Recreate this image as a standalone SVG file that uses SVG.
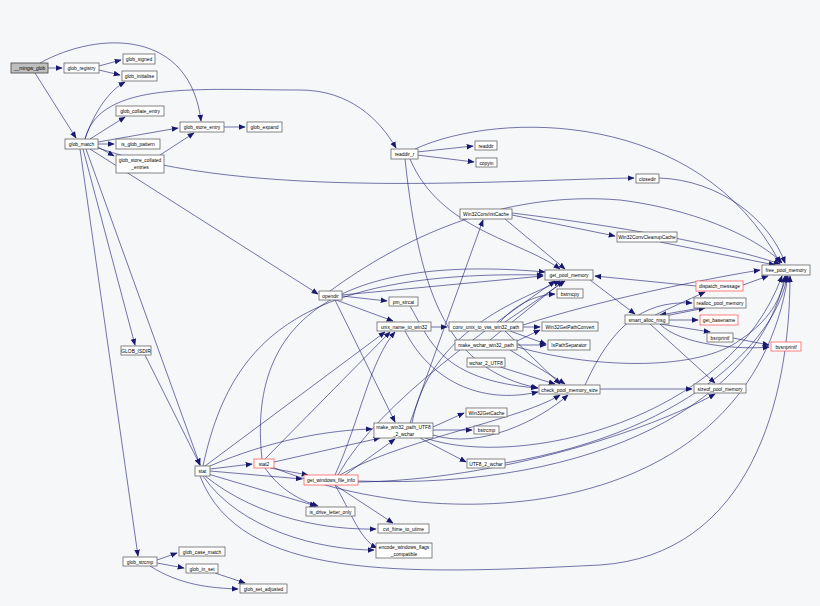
<svg xmlns="http://www.w3.org/2000/svg" width="820" height="606" viewBox="0 0 820 606">
<style>
.n rect{fill:#fff;stroke:#666;stroke-width:0.8}
.r rect{stroke:#ff6060}
.g rect{fill:#bfbfbf;stroke:#444}
text{font-family:"Liberation Sans",Arial,sans-serif;font-size:4.9px;fill:#000;text-anchor:middle}
#edges path{fill:none;stroke:#191970;stroke-width:0.6;marker-end:url(#a)}
</style>
<defs><marker id="a" viewBox="0 0 10 10" refX="9" refY="5" markerWidth="7" markerHeight="7" markerUnits="userSpaceOnUse" orient="auto"><path d="M0,1 L10,5 L0,9z" fill="#191970"/></marker></defs>
<rect width="820" height="606" fill="#f6f7f9"/>
<g id="edges">
<path d="M48,68 L62,68"/><path d="M35,73 L76,138"/><path d="M40,63 C100,30 190,30 201,121"/>
<path d="M99,66 L121,60"/><path d="M99,70 L120,75"/><path d="M85,139 C95,110 110,90 125,82"/>
<path d="M90,139 L125,117"/><path d="M98,142 L178,128"/><path d="M98,144 L114,144"/><path d="M98,147 L114,156"/>
<path d="M160,155 L194,133"/><path d="M224,127 L245,127"/>
<path d="M85,139 C100,80 200,90 300,90 C350,90 380,120 396,148"/>
<path d="M98,148 C250,200 500,180 634,178"/>
<path d="M90,149 L318,294"/><path d="M83,149 L135,345"/><path d="M86,149 L200,465"/><path d="M80,149 L138,556"/>
<path d="M145,355 L200,465"/>
<path d="M417,152 L473,146"/><path d="M417,155 L474,162"/>
<path d="M415,149 C500,110 700,110 780,263"/>
<path d="M410,159 C440,230 520,240 560,269"/>
<path d="M405,159 C420,300 450,370 538,388"/>
<path d="M659,178 C720,180 770,220 785,263"/>
<path d="M512,215 L615,236"/><path d="M512,213 C650,230 740,250 780,264"/><path d="M505,219 L565,269"/>
<path d="M660,242 L775,265"/>
<path d="M342,295 L543,276"/><path d="M342,296 L387,301"/><path d="M336,300 L393,321"/><path d="M335,300 L395,422"/>
<path d="M330,291 C400,240 500,190 620,200 C700,210 760,240 782,263"/>
<path d="M410,306 C430,340 440,380 537,388"/>
<path d="M431,327 L447,327"/><path d="M405,331 C430,380 480,405 538,392"/>
<path d="M523,327 L540,327"/><path d="M510,331 L546,344"/><path d="M500,322 C520,300 540,295 555,294"/>
<path d="M505,322 L565,281"/><path d="M523,325 C600,300 700,280 760,270"/><path d="M505,331 L560,384"/>
<path d="M517,345 L546,345"/><path d="M517,341 L540,330"/><path d="M490,340 L563,281"/><path d="M510,350 L565,384"/>
<path d="M517,347 C600,370 700,370 740,340 C770,320 780,300 786,276"/>
<path d="M500,367 L555,384"/>
<path d="M600,389 L692,389"/><path d="M585,385 C610,330 640,300 692,303"/>
<path d="M590,280 L635,314"/><path d="M655,315 L705,292"/><path d="M665,316 L705,308"/><path d="M700,308 L660,315"/>
<path d="M669,320 L698,320"/><path d="M660,324 L710,332"/><path d="M660,324 C680,345 740,350 769,347"/><path d="M650,324 L715,383"/>
<path d="M696,286 L595,276"/><path d="M743,285 L768,276"/><path d="M733,338 L769,345"/>
<path d="M433,427 L464,413"/><path d="M433,430 L472,430"/><path d="M420,438 L466,462"/><path d="M410,423 L483,220"/>
<path d="M412,423 C430,330 520,300 560,281"/><path d="M433,435 C480,450 540,420 568,395"/>
<path d="M425,438 C520,470 730,420 782,276"/>
<path d="M505,463 C700,430 780,330 787,276"/>
<path d="M210,469 L252,464"/><path d="M210,471 L302,479"/><path d="M208,474 L316,506"/>
<path d="M205,476 C260,520 330,530 376,529"/><path d="M203,476 C240,530 320,550 374,550"/>
<path d="M210,466 C270,440 330,430 372,429"/><path d="M205,466 L385,332"/>
<path d="M203,466 C230,340 300,270 543,275"/>
<path d="M200,476 C240,580 400,575 600,565 C750,555 790,400 790,276"/>
<path d="M270,468 L308,475"/><path d="M265,468 C280,490 300,500 318,506"/><path d="M274,462 L380,438"/><path d="M265,459 L390,332"/>
<path d="M262,459 C250,350 300,250 545,272"/>
<path d="M272,467 C450,540 750,520 788,276"/>
<path d="M335,485 L393,523"/><path d="M335,485 C350,510 360,540 377,548"/><path d="M345,475 L395,439"/>
<path d="M335,475 C360,420 370,360 395,332"/><path d="M338,475 C380,400 500,320 555,281"/>
<path d="M358,481 C600,490 760,400 785,276"/><path d="M358,482 C500,480 650,430 715,394"/>
<path d="M340,475 C400,440 520,420 560,395"/>
<path d="M157,560 L177,553"/><path d="M157,563 L184,568"/><path d="M150,566 C180,585 210,588 238,589"/><path d="M215,573 L245,583"/>
</g>
<g id="mingw_glob" class="n g"><rect x="11" y="63" width="37" height="10"/><text x="29.5" y="70">__mingw_glob</text></g>
<g id="glob_registry" class="n"><rect x="64" y="63" width="35" height="10"/><text x="81.5" y="70">glob_registry</text></g>
<g id="glob_signed" class="n"><rect x="123" y="54" width="32" height="10"/><text x="139" y="61">glob_signed</text></g>
<g id="glob_initialise" class="n"><rect x="122" y="71" width="35" height="10"/><text x="139.5" y="78">glob_initialise</text></g>
<g id="glob_collate_entry" class="n"><rect x="116" y="106" width="48" height="10"/><text x="140" y="113">glob_collate_entry</text></g>
<g id="glob_match" class="n"><rect x="65" y="139" width="33" height="10"/><text x="81.5" y="146">glob_match</text></g>
<g id="is_glob_pattern" class="n"><rect x="116" y="139" width="44" height="10"/><text x="138" y="146">is_glob_pattern</text></g>
<g id="glob_store_collated_entries" class="n"><rect x="116" y="155" width="48" height="18"/><text x="140" y="162">glob_store_collated</text><text x="140" y="169">_entries</text></g>
<g id="glob_store_entry" class="n"><rect x="180" y="122" width="44" height="10"/><text x="202" y="129">glob_store_entry</text></g>
<g id="glob_expand" class="n"><rect x="247" y="122" width="35" height="10"/><text x="264.5" y="129">glob_expand</text></g>
<g id="readdir_r" class="n"><rect x="391" y="149" width="27" height="10"/><text x="404.5" y="156">readdir_r</text></g>
<g id="readdir" class="n"><rect x="475" y="141" width="22" height="9"/><text x="486" y="147.5">readdir</text></g>
<g id="copyin" class="n"><rect x="476" y="158" width="21" height="9"/><text x="486.5" y="164.5">copyin</text></g>
<g id="closedir" class="n"><rect x="636" y="174" width="23" height="9"/><text x="647.5" y="180.5">closedir</text></g>
<g id="Win32ConvInitCache" class="n"><rect x="460" y="209" width="52" height="10"/><text x="486" y="216">Win32ConvInitCache</text></g>
<g id="Win32ConvCleanupCache" class="n"><rect x="617" y="232" width="60" height="10"/><text x="647" y="239">Win32ConvCleanupCache</text></g>
<g id="free_pool_memory" class="n"><rect x="762" y="265" width="48" height="10"/><text x="786" y="272">free_pool_memory</text></g>
<g id="get_pool_memory" class="n"><rect x="545" y="270" width="48" height="10"/><text x="569" y="277">get_pool_memory</text></g>
<g id="opendir" class="n"><rect x="319" y="291" width="23" height="9"/><text x="330.5" y="297.5">opendir</text></g>
<g id="pm_strcat" class="n"><rect x="389" y="297" width="29" height="9"/><text x="403.5" y="303.5">pm_strcat</text></g>
<g id="bstrncpy" class="n"><rect x="557" y="289" width="26" height="9"/><text x="570" y="295.5">bstrncpy</text></g>
<g id="unix_name_to_win32" class="n"><rect x="377" y="322" width="54" height="9"/><text x="404" y="328.5">unix_name_to_win32</text></g>
<g id="conv_unix_to_vss_win32_path" class="n"><rect x="449" y="322" width="74" height="9"/><text x="486" y="328.5">conv_unix_to_vss_win32_path</text></g>
<g id="Win32GetPathConvert" class="n"><rect x="542" y="322" width="56" height="9"/><text x="570" y="328.5">Win32GetPathConvert</text></g>
<g id="make_wchar_win32_path" class="n"><rect x="455" y="340" width="62" height="10"/><text x="486" y="347">make_wchar_win32_path</text></g>
<g id="IsPathSeparator" class="n"><rect x="548" y="340" width="42" height="10"/><text x="569" y="347">IsPathSeparator</text></g>
<g id="wchar_2_UTF8" class="n"><rect x="467" y="358" width="38" height="9"/><text x="486" y="364.5">wchar_2_UTF8</text></g>
<g id="check_pool_memory_size" class="n"><rect x="539" y="385" width="61" height="9"/><text x="569.5" y="391.5">check_pool_memory_size</text></g>
<g id="dispatch_message" class="n r"><rect x="696" y="281" width="47" height="10"/><text x="719.5" y="288">dispatch_message</text></g>
<g id="realloc_pool_memory" class="n"><rect x="694" y="298" width="52" height="10"/><text x="720" y="305">realloc_pool_memory</text></g>
<g id="smart_alloc_msg" class="n"><rect x="625" y="315" width="44" height="9"/><text x="647" y="321.5">smart_alloc_msg</text></g>
<g id="get_basename" class="n r"><rect x="700" y="315" width="38" height="10"/><text x="719" y="322">get_basename</text></g>
<g id="bsnprintf" class="n"><rect x="707" y="333" width="26" height="9"/><text x="720" y="339.5">bsnprintf</text></g>
<g id="bvsnprintf" class="n r"><rect x="771" y="342" width="30" height="9"/><text x="786" y="348.5">bvsnprintf</text></g>
<g id="sizeof_pool_memory" class="n"><rect x="694" y="384" width="52" height="9"/><text x="720" y="390.5">sizeof_pool_memory</text></g>
<g id="GLOB_ISDIR" class="n"><rect x="121" y="346" width="30" height="9"/><text x="136" y="352.5">GLOB_ISDIR</text></g>
<g id="make_win32_path_UTF8_2_wchar" class="n"><rect x="374" y="423" width="59" height="15"/><text x="403.5" y="429">make_win32_path_UTF8</text><text x="403.5" y="435.5">_2_wchar</text></g>
<g id="Win32GetCache" class="n"><rect x="466" y="408" width="41" height="9"/><text x="486.5" y="414.5">Win32GetCache</text></g>
<g id="bstrcmp" class="n"><rect x="474" y="426" width="25" height="8"/><text x="486.5" y="432">bstrcmp</text></g>
<g id="UTF8_2_wchar" class="n"><rect x="467" y="459" width="38" height="9"/><text x="486" y="465.5">UTF8_2_wchar</text></g>
<g id="stat" class="n"><rect x="195" y="466" width="15" height="10"/><text x="202.5" y="473">stat</text></g>
<g id="stat2" class="n r"><rect x="254" y="459" width="20" height="9"/><text x="264" y="465.5">stat2</text></g>
<g id="get_windows_file_info" class="n r"><rect x="304" y="475" width="54" height="10"/><text x="331" y="482">get_windows_file_info</text></g>
<g id="is_drive_letter_only" class="n"><rect x="306" y="507" width="49" height="9"/><text x="330.5" y="513.5">is_drive_letter_only</text></g>
<g id="cvt_ftime_to_utime" class="n"><rect x="378" y="524" width="51" height="9"/><text x="403.5" y="530.5">cvt_ftime_to_utime</text></g>
<g id="encode_windows_flags_compatible" class="n"><rect x="376" y="543" width="56" height="15"/><text x="404" y="549">encode_windows_flags</text><text x="404" y="555.5">_compatible</text></g>
<g id="glob_strcmp" class="n"><rect x="123" y="557" width="34" height="9"/><text x="140" y="563.5">glob_strcmp</text></g>
<g id="glob_case_match" class="n"><rect x="179" y="547" width="46" height="9"/><text x="202" y="553.5">glob_case_match</text></g>
<g id="glob_in_set" class="n"><rect x="186" y="564" width="32" height="9"/><text x="202" y="570.5">glob_in_set</text></g>
<g id="glob_set_adjusted" class="n"><rect x="240" y="584" width="47" height="9"/><text x="263.5" y="590.5">glob_set_adjusted</text></g>
</svg>
